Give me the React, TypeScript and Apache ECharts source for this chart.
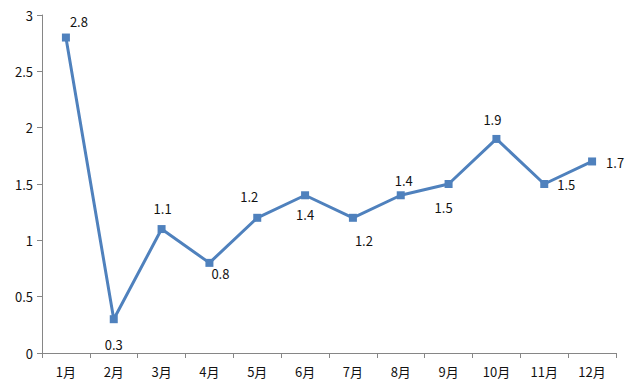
import React, { useEffect, useRef } from "react";
import * as echarts from "echarts";

const categories = ["1月", "2月", "3月", "4月", "5月", "6月", "7月", "8月", "9月", "10月", "11月", "12月"];
const values = [2.8, 0.3, 1.1, 0.8, 1.2, 1.4, 1.2, 1.4, 1.5, 1.9, 1.5, 1.7];
const yTicks = { min: 0, max: 3, interval: 0.5 };

// label offsets (style only)
const labelOffsets: [number, number][] = [
  [13, -16], [0, 25], [1, -21], [11, 11], [-8, -21], [0, 19],
  [11, 23], [3, -15], [-5, 23], [-4, -19], [22, 0], [23, 1],
];

export default function App() {
  const ref = useRef<HTMLDivElement>(null);
  useEffect(() => {
    if (!ref.current) return;
    const chart = echarts.init(ref.current, undefined, { renderer: "svg" });
    const font = "'Noto Sans CJK SC', 'Noto Sans', sans-serif";
    chart.setOption({
      animation: false,
      grid: { left: 42, right: 13, top: 15, bottom: 38 },
      xAxis: {
        type: "category",
        data: categories,
        boundaryGap: true,
        axisLine: { lineStyle: { color: "#868686", width: 1 } },
        axisTick: { show: true, alignWithLabel: false, length: 5, lineStyle: { color: "#868686" } },
        axisLabel: { color: "#111", fontSize: 13, fontFamily: font, margin: 12 },
      },
      yAxis: {
        type: "value",
        min: yTicks.min,
        max: yTicks.max,
        interval: yTicks.interval,
        axisLine: { show: true, lineStyle: { color: "#868686", width: 1 } },
        axisTick: { show: true, length: 5, lineStyle: { color: "#868686" } },
        splitLine: { show: false },
        axisLabel: { color: "#111", fontSize: 13, fontFamily: font, margin: 9 },
      },
      series: [
        {
          type: "line",
          data: values.map((v, i) => ({
            value: v,
            label: { offset: labelOffsets[i] },
          })),
          symbol: "rect",
          symbolSize: 8,
          lineStyle: { color: "#4F81BD", width: 3 },
          itemStyle: { color: "#4F81BD" },
          label: {
            show: true,
            position: "inside",
            color: "#111",
            fontSize: 13,
            fontFamily: font,
          },
        },
      ],
    });
    return () => chart.dispose();
  }, []);
  return <div ref={ref} style={{ width: 629, height: 391, position: "absolute", left: 0, top: 0 }} />;
}
